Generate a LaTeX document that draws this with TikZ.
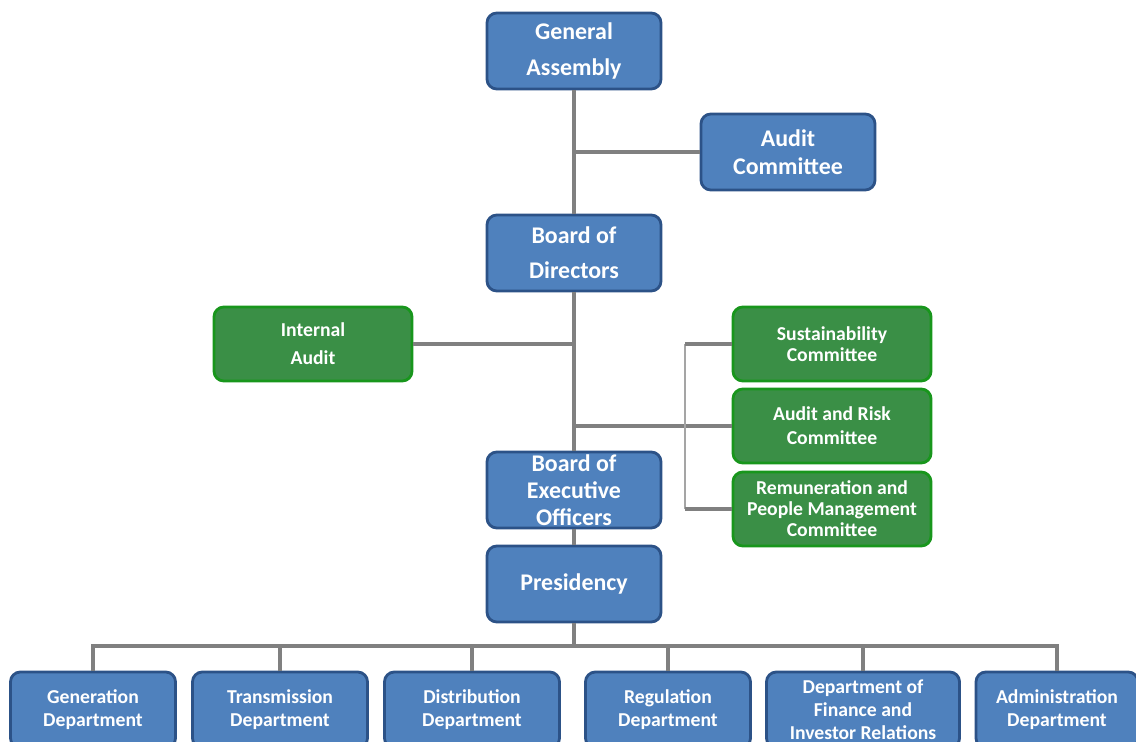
\documentclass[tikz,border=0pt]{standalone}
\usepackage{fontspec}
\setmainfont{Carlito}
\definecolor{bfill}{RGB}{79,129,189}
\definecolor{bline}{RGB}{44,82,135}
\definecolor{gfill}{RGB}{58,143,70}
\definecolor{gline}{RGB}{24,150,28}
\definecolor{ln}{RGB}{128,128,128}
\definecolor{lnl}{RGB}{165,165,165}

\begin{document}
\begin{tikzpicture}[
      x=0.025cm, y=-0.025cm,
      box/.style={draw, line width=2pt, rounded corners=7pt, text=white,
                  align=center, inner xsep=2pt, inner ysep=0pt},
      bbox/.style={box, fill=bfill, draw=bline, minimum width=4.35cm,
                   minimum height=1.9cm, font=\bfseries\fontsize{17}{#1}\selectfont},
      bbox/.default=25,
      gbox/.style={box, fill=gfill, draw=gline, minimum width=4.95cm,
                   minimum height=1.85cm, font=\bfseries\fontsize{14}{#1}\selectfont},
      gbox/.default=15,
      dbox/.style={box, fill=bfill, draw=bline, minimum width=#1,
                   minimum height=1.9cm, font=\bfseries\fontsize{14}{16.3}\selectfont},
      conn/.style={line width=2.4pt, color=ln},
      thinconn/.style={line width=1.2pt, color=lnl}]

        \useasboundingbox (0,0) rectangle (1136,742);

        % board level
        \node[bbox]     (ga)   at (574,51)  {General\\Assembly};
        \node[bbox=20]  (ac)   at (788,152) {Audit\\Committee};
        \node[bbox]     (bod)  at (574,253) {Board of\\Directors};

        % committees
        \node[gbox=20]  (ia)   at (313,344) {Internal\\Audit};
        \node[gbox]     (sc)   at (832,344) {Sustainability\\Committee};
        \node[gbox=17]  (arc)  at (832,426) {Audit and Risk\\Committee};
        \node[gbox]     (rpm)  at (832,509) {Remuneration and\\People Management\\Committee};

        % executive level
        \node[bbox=19]  (beo)  at (574,490) {Board of\\Executive\\Officers};
        \node[bbox]     (pres) at (574,584) {Presidency};

        % departments
        \node[dbox=4.125cm] (gen)   at (93,710)   {Generation\\Department};
        \node[dbox=4.375cm] (trans) at (280,710)  {Transmission\\Department};
        \node[dbox=4.375cm] (dist)  at (472,710)  {Distribution\\Department};
        \node[dbox=4.125cm] (reg)   at (668,710)  {Regulation\\Department};
        \node[dbox=4.825cm] (fin)   at (863,710)  {Department of\\Finance and\\Investor Relations};
        \node[dbox=4.05cm]  (adm)   at (1057,710) {Administration\\Department};

        \draw[conn] (ga.south) -- (bod.north);
        \draw[conn] (ac.west) -- (ac.west -| ga.south);
        \draw[conn] (bod.south) -- (beo.north);
        \draw[conn] (ia.east) -- (ia.east -| bod.south);
        \draw[conn] (arc.west) -- (arc.west -| bod.south);

        % bracket
        \coordinate (brk1) at (685,344);
        \coordinate (brk2) at (685,509);
        \draw[thinconn] (brk1) -- (brk2);
        \draw[conn] (sc.west) -- (brk1);
        \draw[conn] (rpm.west) -- (brk2);

        \draw[conn] (beo.south) -- (pres.north);

        % bus
        \coordinate (bus) at (574,646);
        \draw[conn] (pres.south) -- (bus);
        \foreach \d in {gen, trans, dist, reg, fin, adm}
          \draw[conn] (\d.north) |- (bus);

      \end{tikzpicture}
\end{document}
